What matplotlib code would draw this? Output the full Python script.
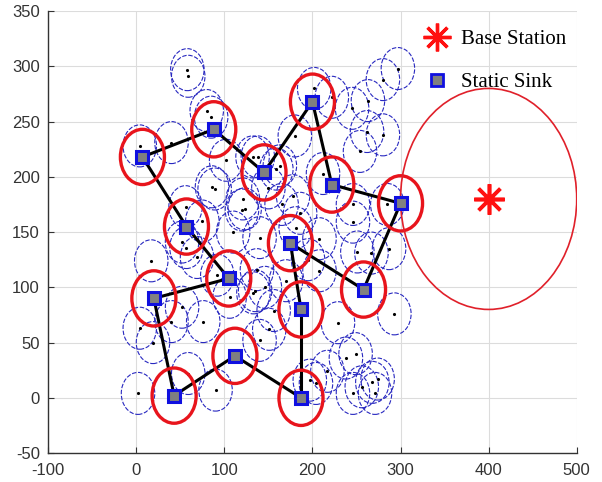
import matplotlib
matplotlib.use("Agg")
import matplotlib.pyplot as plt
from matplotlib.patches import Circle
from matplotlib.lines import Line2D

plt.rcParams["axes.unicode_minus"] = False
plt.rcParams["font.family"] = ["Liberation Sans", "DejaVu Sans"]

# sensor nodes (x, y)
node_x = [58, 59, 80, 85, 4, 40, 86, 89, 102, 121, 123, 132, 138, 163, 159,
          178, 181, 186, 120, 56, 52, 57, 69, 17, 92, 106, 135, 146, 137, 170,
          133, 52, 40, 76, 4, 19, 2, 90, 59, 140, 151, 156, 229, 293, 238,
          249, 217, 197, 204, 268, 274, 256, 246, 271, 208, 251, 267, 287,
          202, 222, 245, 263, 280, 297, 262, 280, 254, 180, 212, 285, 246,
          208, 246, 150, 165, 140, 110, 75, 195]
node_y = [297, 291, 260, 254, 228, 231, 191, 189, 215, 180, 171, 218, 218, 210, 207,
          183, 154, 167, 170, 173, 141, 136, 127, 124, 111, 91, 97, 100, 116, 106,
          95, 82, 69, 69, 63, 50, 4, 7, 22, 52, 62, 79, 68, 76, 36,
          40, 24, 16, 13, 14, 17, 10, 4, 4, 115, 132, 131, 135,
          280, 272, 262, 269, 288, 298, 241, 238, 223, 237, 203, 175, 159,
          144, 175, 190, 175, 145, 150, 160, 125]

# static sinks
sink_x = [7, 88, 145, 200, 222, 300, 57, 105, 175, 258, 20, 187, 112, 43, 187]
sink_y = [218, 243, 204, 268, 193, 176, 155, 108, 140, 98, 90, 80, 38, 2, 0]

# links between sinks (index pairs)
links = [(0, 1), (1, 2), (2, 3), (3, 4), (4, 5), (5, 9), (9, 8), (8, 11),
         (11, 14), (14, 12), (12, 13), (13, 10), (10, 7), (7, 6), (6, 0)]

bs_x, bs_y = 400, 180
node_r = 19
sink_r = 25
bs_r = 100

fig = plt.figure(figsize=(6.02, 4.82), dpi=100)
ax = fig.add_axes([0.080, 0.060, 0.878, 0.917])

for x, y in zip(node_x, node_y):
    ax.add_patch(Circle((x, y), node_r, fill=False, edgecolor="#2828c0",
                        linewidth=0.8, linestyle=(0, (4, 1.5)), zorder=2))
ax.plot(node_x, node_y, "k.", markersize=2.5, zorder=3)

for i, j in links:
    ax.plot([sink_x[i], sink_x[j]], [sink_y[i], sink_y[j]], color="black",
            linewidth=2.2, zorder=4)

for x, y in zip(sink_x, sink_y):
    ax.add_patch(Circle((x, y), sink_r, fill=False, edgecolor="#e8141c",
                        linewidth=2.4, zorder=5))
ax.plot(sink_x, sink_y, "s", markersize=9, markerfacecolor="#808080",
        markeredgecolor="#1010e0", markeredgewidth=2.2, linestyle="none", zorder=6)

ax.add_patch(Circle((bs_x, bs_y), bs_r, fill=False, edgecolor="#e0202a",
                    linewidth=1.2, zorder=5))
ax.plot(bs_x, bs_y, marker=(8, 2, 0), markersize=22, color="#ff1010",
        markeredgewidth=2.6, linestyle="none", zorder=6)

ax.set_xlim(-100, 500)
ax.set_ylim(-50, 350)
ax.set_xticks(range(-100, 501, 100))
ax.set_yticks(range(-50, 351, 50))
ax.grid(True, color="#dcdcdc", linewidth=0.8)
ax.set_axisbelow(True)
ax.tick_params(direction="in", labelsize=12, colors="#333333", length=4)
ax.tick_params(axis="x", pad=7)
ax.tick_params(axis="y", pad=6)
for s in ["top", "right"]:
    ax.spines[s].set_visible(False)
for s in ["left", "bottom"]:
    ax.spines[s].set_color("#333333")
    ax.spines[s].set_linewidth(1.0)

handles = [
    Line2D([], [], marker=(8, 2, 0), markersize=20, color="#ff1010",
           markeredgewidth=2.4, linestyle="none"),
    Line2D([], [], marker="s", markersize=8, markerfacecolor="#808080",
           markeredgecolor="#1010e0", markeredgewidth=2.0, linestyle="none"),
]
ax.legend(handles, ["Base Station", "Static Sink"], loc="upper right",
          bbox_to_anchor=(1.015, 1.0), frameon=False,
          prop={"family": "Liberation Serif", "size": 15},
          handletextpad=0.4, labelspacing=1.1, handlelength=1.5)

fig.savefig("out.png", dpi=100)
